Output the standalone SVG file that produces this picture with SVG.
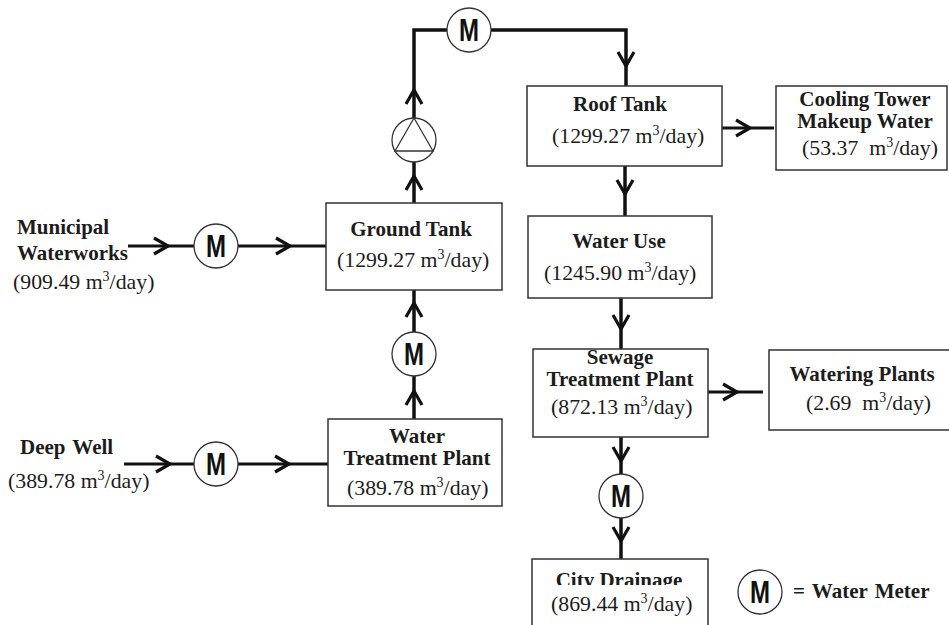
<svg xmlns="http://www.w3.org/2000/svg" width="949" height="625" viewBox="0 0 949 625">
<style>
text{font-family:"Liberation Serif","Times New Roman",serif;fill:#1c1c1c}
.b{font-weight:bold;font-size:21px}
.r{font-size:21.800px}
.sup{font-size:14px}
.m{font-family:"Liberation Sans",Arial,sans-serif;font-weight:bold;font-size:32px;fill:#111;text-anchor:middle}
.mid{text-anchor:middle}
.box{fill:#fff;stroke:#333;stroke-width:1.5}
.circ{fill:#fff;stroke:#333;stroke-width:1.3}
.c{fill:none;stroke:#111;stroke-width:3.500;marker-mid:url(#chev)}
.h{stroke-width:3}
.s{fill:none;stroke:#111;stroke-width:3.500}
</style>
<defs>
<marker id="chev" markerUnits="userSpaceOnUse" markerWidth="24" markerHeight="24" refX="14" refY="12" orient="auto" overflow="visible">
<path d="M0,4L14,12L0,20" fill="none" stroke="#111" stroke-width="3.200"/>
</marker>
<clipPath id="cd"><rect x="533" y="560" width="175" height="25"/></clipPath>
</defs>
<rect width="949" height="625" fill="#fff"/>
<g id="connectors">
<polyline class="c" points="414,203 414,176 414,162"/>
<polyline class="c" points="414,118 414,90 414,60"/>
<polyline class="s" points="414,60 414,30 447,30"/>
<polyline class="s" points="491,30 626,30 626,50"/>
<polyline class="c" points="626,50 626,66 626,86"/>
<polyline class="c" points="625,166 625,194 625,216"/>
<polyline class="c" points="621,298 621,329 621,349"/>
<polyline class="c" points="621,437 621,461 621,475"/>
<polyline class="c" points="621,518 621,541 621,559"/>
<polyline class="c h" points="722,128 750,128 774,128"/>
<polyline class="c h" points="708,392 737,392 763,392"/>
<polyline class="c h" points="128,246 168,246 194,246"/>
<polyline class="c h" points="238,246 290,246 326,246"/>
<polyline class="c h" points="124,464 170,464 194,464"/>
<polyline class="c h" points="238,464 289,464 328,464"/>
<polyline class="c" points="414,419 414,391 414,376"/>
<polyline class="c" points="414,332 414,303 414,290"/>
</g>
<g id="roof-tank"><rect class="box" x="527" y="86" width="195" height="80"/>
<text class="b mid" x="620" y="111">Roof Tank</text>
<text class="r" x="552" y="143">(1299.27 m<tspan class="sup" dy="-8">3</tspan><tspan dy="8">/day)</tspan></text></g>
<g id="cooling-tower"><rect class="box" x="776" y="86" width="171" height="84"/>
<text class="b mid" x="865" y="106">Cooling Tower</text>
<text class="b mid" x="865" y="128">Makeup Water</text>
<text class="r" x="802" y="155">(53.37&#160; m<tspan class="sup" dy="-8">3</tspan><tspan dy="8">/day)</tspan></text></g>
<g id="water-use"><rect class="box" x="528" y="216" width="184" height="82"/>
<text class="b mid" x="619" y="248">Water Use</text>
<text class="r" x="544" y="280">(1245.90 m<tspan class="sup" dy="-8">3</tspan><tspan dy="8">/day)</tspan></text></g>
<g id="sewage-plant"><rect class="box" x="533" y="349" width="175" height="88"/>
<text class="b mid" x="620" y="364">Sewage</text>
<text class="b mid" x="620" y="386">Treatment Plant</text>
<text class="r" x="551" y="414">(872.13 m<tspan class="sup" dy="-8">3</tspan><tspan dy="8">/day)</tspan></text></g>
<g id="watering-plants"><rect class="box" x="769" y="350" width="181" height="80"/>
<text class="b mid" x="862" y="381">Watering Plants</text>
<text class="r" x="806" y="410">(2.69&#160; m<tspan class="sup" dy="-8">3</tspan><tspan dy="8">/day)</tspan></text></g>
<g id="ground-tank"><rect class="box" x="326" y="203" width="176" height="87"/>
<text class="b mid" x="411" y="236">Ground Tank</text>
<text class="r" x="337" y="267">(1299.27 m<tspan class="sup" dy="-8">3</tspan><tspan dy="8">/day)</tspan></text></g>
<g id="water-treatment"><rect class="box" x="328" y="419" width="174" height="87"/>
<text class="b mid" x="417" y="443">Water</text>
<text class="b mid" x="417" y="465">Treatment Plant</text>
<text class="r" x="347" y="495">(389.78 m<tspan class="sup" dy="-8">3</tspan><tspan dy="8">/day)</tspan></text></g>
<g id="city-drainage"><rect class="box" x="532" y="559" width="176" height="70"/>
<text class="b mid" x="619" y="587" clip-path="url(#cd)">City Drainage</text>
<text class="r" x="551" y="611">(869.44 m<tspan class="sup" dy="-8">3</tspan><tspan dy="8">/day)</tspan></text></g>
<g id="municipal"><text class="b" x="17" y="234">Municipal</text>
<text class="b" x="17" y="260">Waterworks</text>
<text class="r" x="13" y="289">(909.49 m<tspan class="sup" dy="-8">3</tspan><tspan dy="8">/day)</tspan></text></g>
<g id="deep-well"><text class="b" x="20" y="454" word-spacing="2">Deep Well</text>
<text class="r" x="8" y="488">(389.78 m<tspan class="sup" dy="-8">3</tspan><tspan dy="8">/day)</tspan></text></g>
<g id="pump"><circle class="circ" cx="414" cy="140" r="22"/>
<path d="M414,118L395,151H433Z" fill="none" stroke="#333" stroke-width="1.3"/></g>
<g id="meter-top"><circle class="circ" cx="469" cy="30" r="22"/><text class="m" x="469" y="41" textLength="20" lengthAdjust="spacingAndGlyphs">M</text></g>
<g id="meter-municipal"><circle class="circ" cx="216" cy="246" r="22"/><text class="m" x="216" y="257" textLength="20" lengthAdjust="spacingAndGlyphs">M</text></g>
<g id="meter-plant"><circle class="circ" cx="414" cy="354" r="22"/><text class="m" x="414" y="365" textLength="20" lengthAdjust="spacingAndGlyphs">M</text></g>
<g id="meter-well"><circle class="circ" cx="216" cy="464" r="22"/><text class="m" x="216" y="475" textLength="20" lengthAdjust="spacingAndGlyphs">M</text></g>
<g id="meter-sewage"><circle class="circ" cx="621" cy="496" r="22"/><text class="m" x="621" y="507" textLength="20" lengthAdjust="spacingAndGlyphs">M</text></g>
<g id="legend"><circle class="circ" cx="760" cy="592" r="22"/><text class="m" x="760" y="603" textLength="20" lengthAdjust="spacingAndGlyphs">M</text>
<text class="b" x="793" y="598" word-spacing="2">= Water Meter</text></g>
</svg>
